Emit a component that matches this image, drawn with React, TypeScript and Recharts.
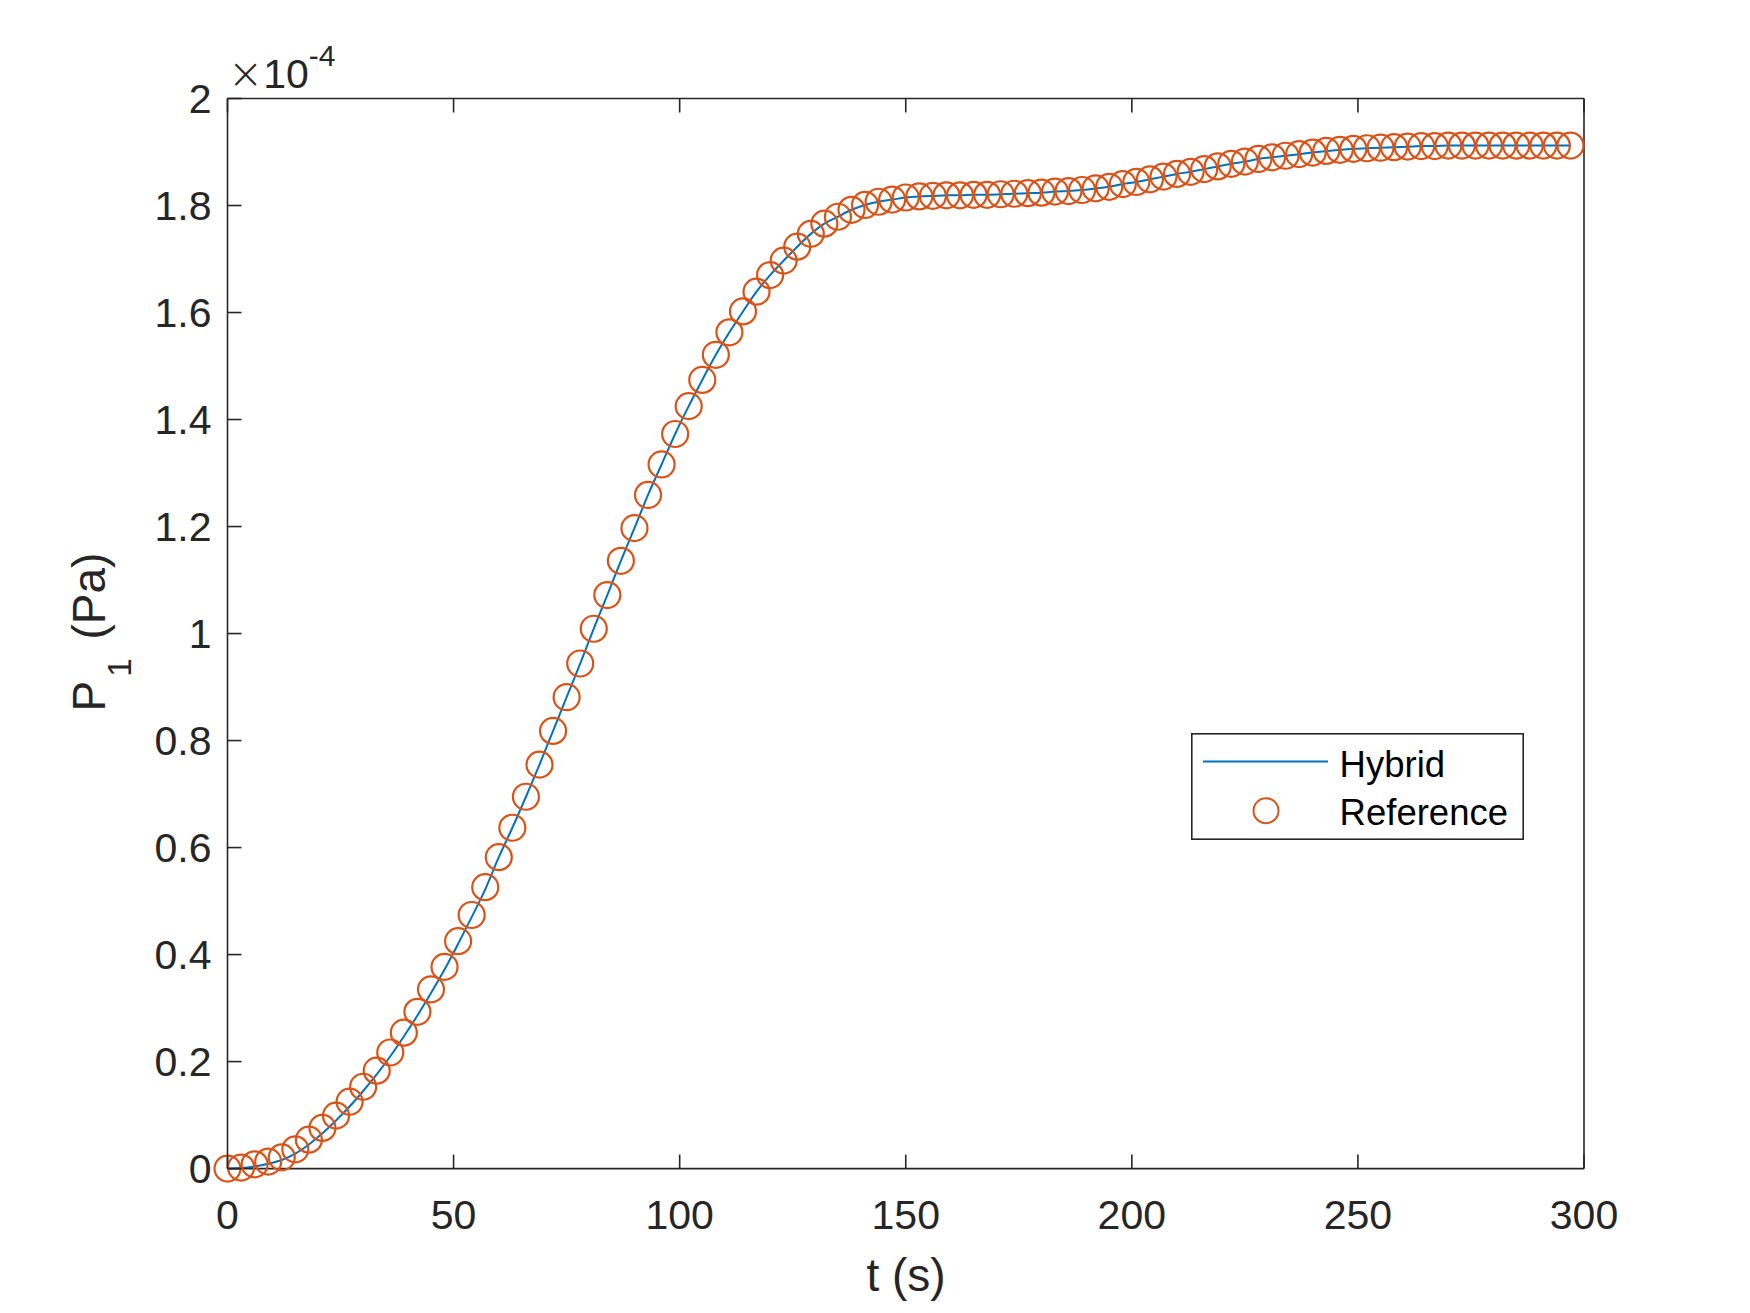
import React from "react"
import { LineChart, Line, XAxis, YAxis, Legend } from "recharts"

// sample times (s)
const time = [
  0, 3, 6, 9, 12, 15, 18, 21, 24, 27,
  30, 33, 36, 39, 42, 45, 48, 51, 54, 57,
  60, 63, 66, 69, 72, 75, 78, 81, 84, 87,
  90, 93, 96, 99, 102, 105, 108, 111, 114, 117,
  120, 123, 126, 129, 132, 135, 138, 141, 144, 147,
  150, 153, 156, 159, 162, 165, 168, 171, 174, 177,
  180, 183, 186, 189, 192, 195, 198, 201, 204, 207,
  210, 213, 216, 219, 222, 225, 228, 231, 234, 237,
  240, 243, 246, 249, 252, 255, 258, 261, 264, 267,
  270, 273, 276, 279, 282, 285, 288, 291, 294, 297,
]

// P1 in units of 1e-4 Pa
const hybrid = [
  0, 0.001, 0.004, 0.009, 0.016, 0.028, 0.045, 0.066, 0.09, 0.116,
  0.145, 0.176, 0.21, 0.247, 0.286, 0.328, 0.372, 0.42, 0.47, 0.522,
  0.582, 0.637, 0.695, 0.755, 0.818, 0.881, 0.944, 1.009, 1.072, 1.136,
  1.197, 1.259, 1.316, 1.373, 1.425, 1.474, 1.521, 1.563, 1.602, 1.639,
  1.67, 1.697, 1.723, 1.747, 1.766, 1.779, 1.792, 1.801, 1.807, 1.811,
  1.815, 1.817, 1.818, 1.819, 1.819, 1.82, 1.82, 1.821, 1.822, 1.823,
  1.824, 1.826, 1.827, 1.829, 1.832, 1.835, 1.84, 1.844, 1.849, 1.854,
  1.859, 1.863, 1.868, 1.873, 1.878, 1.882, 1.887, 1.89, 1.893, 1.896,
  1.899, 1.902, 1.904, 1.906, 1.907, 1.908, 1.909, 1.91, 1.911, 1.911,
  1.912, 1.912, 1.912, 1.912, 1.912, 1.912, 1.912, 1.912, 1.912, 1.912,
]

const reference = [
  0, 0.002, 0.008, 0.013, 0.021, 0.036, 0.054, 0.076, 0.099, 0.125,
  0.153, 0.183, 0.217, 0.254, 0.293, 0.335, 0.377, 0.425, 0.474, 0.526,
  0.582, 0.637, 0.695, 0.755, 0.818, 0.881, 0.944, 1.009, 1.072, 1.136,
  1.197, 1.259, 1.316, 1.373, 1.425, 1.474, 1.521, 1.563, 1.602, 1.639,
  1.67, 1.697, 1.723, 1.747, 1.766, 1.779, 1.792, 1.801, 1.807, 1.811,
  1.815, 1.817, 1.818, 1.819, 1.819, 1.82, 1.82, 1.821, 1.822, 1.823,
  1.824, 1.826, 1.827, 1.829, 1.832, 1.835, 1.84, 1.844, 1.849, 1.854,
  1.859, 1.863, 1.868, 1.873, 1.878, 1.882, 1.887, 1.89, 1.893, 1.896,
  1.899, 1.902, 1.904, 1.906, 1.907, 1.908, 1.909, 1.91, 1.911, 1.911,
  1.912, 1.912, 1.912, 1.912, 1.912, 1.912, 1.912, 1.912, 1.912, 1.912,
]

const xTicks = [0, 50, 100, 150, 200, 250, 300]
const yTicks = [0, 0.2, 0.4, 0.6, 0.8, 1, 1.2, 1.4, 1.6, 1.8, 2]

const data = time.map((t, i) => ({ t, hybrid: hybrid[i], reference: reference[i] }))

const FONT = '"Liberation Sans", Arial, Helvetica, sans-serif'
const AXIS = "#262626"
const BLUE = "#0072BD"
const ORANGE = "#D95319"
const TICK = 14
const W = 1750
const H = 1313

function BottomTick(props: any) {
  const { x, y, payload } = props
  return (
    <g>
      <line x1={x} y1={y} x2={x} y2={y - TICK} stroke={AXIS} strokeWidth={1.6} />
      <text x={x} y={y + 60} textAnchor="middle" fontSize={41} fill={AXIS} fontFamily={FONT}>
        {payload.value}
      </text>
    </g>
  )
}

function LeftTick(props: any) {
  const { x, y, payload } = props
  return (
    <g>
      <line x1={x} y1={y} x2={x + TICK} y2={y} stroke={AXIS} strokeWidth={1.6} />
      <text x={x - 16} y={y + 14.5} textAnchor="end" fontSize={41} fill={AXIS} fontFamily={FONT}>
        {Number(payload.value.toFixed(1)).toString()}
      </text>
    </g>
  )
}

function TopTick(props: any) {
  const { x, y } = props
  return <line x1={x} y1={y} x2={x} y2={y + TICK} stroke={AXIS} strokeWidth={1.6} />
}

function RightTick(props: any) {
  const { x, y } = props
  return <line x1={x} y1={y} x2={x - TICK} y2={y} stroke={AXIS} strokeWidth={1.6} />
}

function LegendBox() {
  return (
    <svg width={333} height={107} style={{ display: "block" }}>
      <rect x={0.8} y={0.8} width={331.4} height={105.4} fill="#fff" stroke={AXIS} strokeWidth={1.6} />
      <line x1={12} y1={28.4} x2={137} y2={28.4} stroke={BLUE} strokeWidth={2} />
      <circle cx={75} cy={77.7} r={12.5} fill="none" stroke={ORANGE} strokeWidth={2} />
      <text x={148.6} y={44} fontSize={36.5} fill="#000" fontFamily={FONT}>Hybrid</text>
      <text x={148.6} y={91.7} fontSize={36.5} fill="#000" fontFamily={FONT}>Reference</text>
    </svg>
  )
}

export default function App() {
  return (
    <div style={{ position: "absolute", left: 0, top: 0, width: W, height: H, background: "#fff" }}>
      <LineChart
        width={W}
        height={H}
        data={data}
        margin={{ top: 97.5, right: 165, left: 0, bottom: 0 }}
      >
        <XAxis
          dataKey="t"
          type="number"
          domain={[0, 300]}
          ticks={xTicks}
          interval={0}
          height={144.4}
          tickSize={0}
          tickMargin={0}
          tickLine={false}
          axisLine={{ stroke: AXIS, strokeWidth: 1.6 }}
          tick={<BottomTick />}
          label={() => (
            <text x={906} y={1291} textAnchor="middle" fontSize={46} fill={AXIS} fontFamily={FONT}>
              t (s)
            </text>
          )}
        />
        <XAxis
          xAxisId="top"
          orientation="top"
          dataKey="t"
          type="number"
          domain={[0, 300]}
          ticks={xTicks}
          interval={0}
          height={1}
          tickSize={0}
          tickMargin={0}
          tickLine={false}
          axisLine={{ stroke: AXIS, strokeWidth: 1.6 }}
          tick={<TopTick />}
          label={() => (
            <text x={228} y={88} fontSize={41} fill={AXIS} fontFamily={FONT}>
              <tspan fontSize={42} fontFamily='"DejaVu Sans", sans-serif' fontWeight={200}>×</tspan>
              <tspan>10</tspan>
              <tspan dy={-22} fontSize={30}>-4</tspan>
            </text>
          )}
        />
        <YAxis
          type="number"
          domain={[0, 2]}
          ticks={yTicks}
          interval={0}
          width={227.5}
          tickSize={0}
          tickMargin={0}
          tickLine={false}
          axisLine={{ stroke: AXIS, strokeWidth: 1.6 }}
          tick={<LeftTick />}
          label={() => (
            <text
              x={105}
              y={632}
              textAnchor="middle"
              fontSize={46}
              fill={AXIS}
              fontFamily={FONT}
              transform="rotate(-90 105 632)"
            >
              <tspan>P</tspan>
              <tspan dx={4} dy={26} fontSize={33}>1</tspan>
              <tspan dx={6} dy={-26}> (Pa)</tspan>
            </text>
          )}
        />
        <YAxis
          yAxisId="right"
          orientation="right"
          type="number"
          domain={[0, 2]}
          ticks={yTicks}
          interval={0}
          width={1}
          tickSize={0}
          tickMargin={0}
          tickLine={false}
          axisLine={{ stroke: AXIS, strokeWidth: 1.6 }}
          tick={<RightTick />}
        />
        <Line
          dataKey="reference"
          name="Reference"
          stroke="none"
          dot={{ r: 13, stroke: ORANGE, strokeWidth: 2.2, fill: "none" }}
          activeDot={false}
          isAnimationActive={false}
        />
        <Line
          dataKey="hybrid"
          name="Hybrid"
          type="monotone"
          stroke={BLUE}
          strokeWidth={2}
          dot={false}
          activeDot={false}
          isAnimationActive={false}
        />
        <Legend
          layout="vertical"
          align="center"
          verticalAlign="middle"
          wrapperStyle={{ left: 1190.7, top: 733.3, width: 333, height: 107 }}
          content={() => <LegendBox />}
        />
      </LineChart>
    </div>
  )
}
